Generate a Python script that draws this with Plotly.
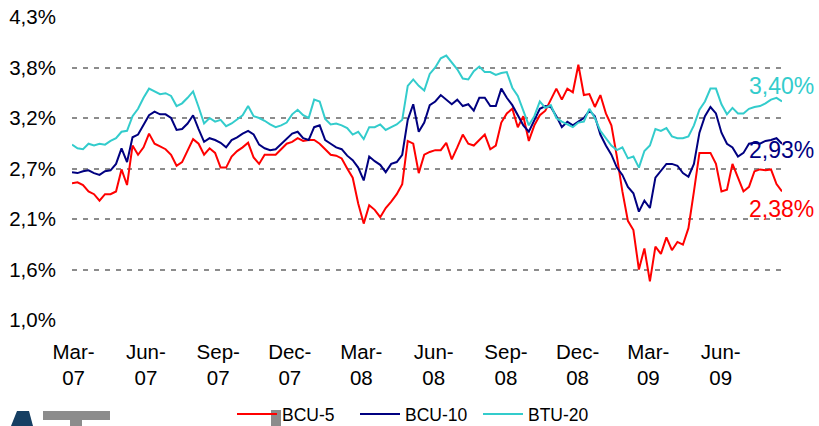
import pandas as pd
import plotly.graph_objects as go

# 週次サンプル (2007-02-27 から 130 週)
dates = pd.date_range("2007-02-27", periods=130, freq="7D")

bcu5 = [
    2.49, 2.50, 2.47, 2.40, 2.37, 2.30, 2.37, 2.37, 2.40, 2.64,
    2.47, 2.90, 2.80, 2.88, 3.03, 2.92, 2.89, 2.86, 2.80, 2.68,
    2.72, 2.85, 2.97, 2.92, 2.80, 2.87, 2.82, 2.66, 2.66, 2.78,
    2.84, 2.88, 2.93, 2.77, 2.70, 2.80, 2.80, 2.80, 2.86, 2.92,
    2.94, 2.98, 2.95, 2.96, 2.96, 2.92, 2.86, 2.80, 2.79, 2.76,
    2.65, 2.55, 2.27, 2.05, 2.25, 2.20, 2.12, 2.22, 2.29, 2.37,
    2.48, 2.95, 2.92, 2.60, 2.80, 2.83, 2.85, 2.85, 2.93, 2.75,
    2.88, 3.02, 2.92, 2.90, 2.96, 3.02, 2.86, 2.90, 3.15, 3.25,
    3.30, 3.10, 3.22, 2.95, 3.12, 3.23, 3.28, 3.40, 3.52, 3.40,
    3.52, 3.48, 3.78, 3.45, 3.46, 3.32, 3.45, 3.25, 3.12, 2.78,
    2.40, 2.08, 1.98, 1.55, 1.78, 1.42, 1.80, 1.72, 1.90, 1.76,
    1.85, 1.82, 2.00, 2.40, 2.82, 2.82, 2.82, 2.70, 2.40, 2.42,
    2.70, 2.55, 2.40, 2.45, 2.62, 2.64, 2.63, 2.64, 2.48, 2.40,
]

bcu10 = [
    2.61, 2.60, 2.62, 2.63, 2.60, 2.58, 2.62, 2.63, 2.70, 2.87,
    2.72, 2.99, 3.02, 3.12, 3.23, 3.27, 3.24, 3.24, 3.20, 3.07,
    3.08, 3.14, 3.23, 3.08, 2.94, 2.98, 2.96, 2.93, 2.88, 2.96,
    2.99, 3.03, 3.06, 3.02, 2.91, 2.87, 2.85, 2.86, 2.92, 2.98,
    3.03, 3.05, 2.98, 2.96, 3.10, 3.12, 2.96, 2.92, 2.88, 2.86,
    2.79, 2.74, 2.66, 2.52, 2.78, 2.73, 2.69, 2.61, 2.70, 2.72,
    2.80, 3.18, 3.35, 3.05, 3.15, 3.34, 3.38, 3.45, 3.40, 3.35,
    3.40, 3.33, 3.35, 3.28, 3.42, 3.42, 3.33, 3.33, 3.52, 3.42,
    3.34, 3.23, 3.12, 3.05, 3.17, 3.30, 3.33, 3.32, 3.22, 3.10,
    3.16, 3.12, 3.16, 3.20, 3.28, 3.22, 3.02, 2.90, 2.80, 2.66,
    2.58, 2.45, 2.38, 2.18, 2.30, 2.22, 2.55, 2.62, 2.70, 2.70,
    2.68, 2.60, 2.56, 2.70, 3.04, 3.22, 3.32, 3.25, 3.04, 2.92,
    2.88, 2.78, 2.82, 2.92, 2.93, 2.92, 2.95, 2.96, 2.98, 2.92,
]

btu20 = [
    2.91, 2.87, 2.86, 2.92, 2.90, 2.92, 2.91, 2.95, 2.98, 3.05,
    3.06, 3.22, 3.30, 3.42, 3.52, 3.49, 3.46, 3.47, 3.44, 3.33,
    3.36, 3.42, 3.49, 3.32, 3.14, 3.20, 3.16, 3.18, 3.11, 3.14,
    3.19, 3.23, 3.33, 3.22, 3.20, 3.17, 3.13, 3.10, 3.12, 3.15,
    3.24, 3.29, 3.23, 3.20, 3.40, 3.38, 3.19, 3.13, 3.14, 3.12,
    3.09, 3.02, 3.05, 2.97, 3.10, 3.10, 3.13, 3.07, 3.10, 3.13,
    3.18, 3.55, 3.62, 3.55, 3.50, 3.68, 3.75, 3.85, 3.88, 3.80,
    3.73, 3.63, 3.62, 3.71, 3.76, 3.70, 3.70, 3.67, 3.69, 3.70,
    3.53, 3.44, 3.27, 3.12, 3.22, 3.38, 3.31, 3.34, 3.20, 3.16,
    3.13, 3.10, 3.15, 3.16, 3.30, 3.20, 3.06, 2.98, 2.90, 2.85,
    2.88, 2.76, 2.78, 2.66, 2.84, 2.90, 3.08, 3.06, 3.09, 3.00,
    2.98, 2.98, 3.00, 3.12, 3.29, 3.38, 3.52, 3.52, 3.35, 3.24,
    3.31, 3.25, 3.25, 3.30, 3.32, 3.33, 3.36, 3.40, 3.42, 3.38,
]

series_names = ["BCU-5", "BCU-10", "BTU-20"]
series_colors = ["#FF0000", "#000080", "#33CCCC"]

# 軸の目盛
y_ticks = [1.0, 1.55, 2.1, 2.65, 3.2, 3.75, 4.3]
y_labels = ["1,0%", "1,6%", "2,1%", "2,7%", "3,2%", "3,8%", "4,3%"]
x_ticks = ["2007-03-01", "2007-06-01", "2007-09-01", "2007-12-01", "2008-03-01",
           "2008-06-01", "2008-09-01", "2008-12-01", "2009-03-01", "2009-06-01"]
x_labels = ["Mar-<br>07", "Jun-<br>07", "Sep-<br>07", "Dec-<br>07", "Mar-<br>08",
            "Jun-<br>08", "Sep-<br>08", "Dec-<br>08", "Mar-<br>09", "Jun-<br>09"]

# 最終値ラベル
end_labels = ["2,38%", "2,93%", "3,40%"]

FONT = "Arial, Liberation Sans, sans-serif"

# プロット領域 (px)
L, R, T, B = 72, 782, 17, 320
W, H = R - L, B - T


def px(x, y):
    # ピクセル位置 → paper 座標
    return (x - L) / W, (B - y) / H


fig = go.Figure()

for name, vals, col in zip(series_names, [bcu5, bcu10, btu20], series_colors):
    fig.add_trace(go.Scatter(
        x=dates, y=vals, name=name, mode="lines",
        line=dict(color=col, width=2),
    ))

for text, ypix, col in zip(end_labels, [209, 150, 86], series_colors):
    fig.add_annotation(
        x=px(781, ypix)[0], y=px(781, ypix)[1], xref="paper", yref="paper",
        text=text, showarrow=False, xanchor="center", yanchor="middle",
        font=dict(family=FONT, size=23, color=col),
    )

# ロゴの切れ端 (左下)
logo_path = "M {} {} L {} {} L {} {} L {} {} Z".format(
    *px(11, 426), *px(17, 411), *px(29, 411), *px(33, 426))
fig.add_shape(type="path", xref="paper", yref="paper", path=logo_path,
              fillcolor="#163F63", line=dict(width=0))
for (x0, y0, x1, y1) in [(43, 411, 110, 420), (70, 420, 82, 426), (271, 410, 281, 426)]:
    a0, b0 = px(x0, y0)
    a1, b1 = px(x1, y1)
    fig.add_shape(type="rect", xref="paper", yref="paper",
                  x0=a0, y0=b1, x1=a1, y1=b0,
                  fillcolor="#8C8C8C", line=dict(width=0), layer="below")

fig.update_layout(
    width=819, height=426,
    margin=dict(l=L, r=819 - R, t=T, b=426 - B, autoexpand=False),
    plot_bgcolor="white", paper_bgcolor="white",
    font=dict(family=FONT, color="black"),
    showlegend=True,
    legend=dict(
        orientation="h", xref="container", yref="container",
        x=232 / 819, xanchor="left", y=(426 - 414) / 426, yanchor="middle",
        font=dict(size=17.5, color="black"), bgcolor="rgba(0,0,0,0)",
        itemwidth=40, entrywidth=68, entrywidthmode="pixels", tracegroupgap=0,
    ),
    xaxis=dict(
        type="date", range=[dates[0], dates[-1]], automargin=False,
        tickvals=x_ticks, ticktext=x_labels,
        showgrid=False, zeroline=False, showline=False,
        ticks="outside", ticklen=13, tickcolor="rgba(0,0,0,0)",
        tickfont=dict(size=20.5, color="black"),
    ),
    yaxis=dict(
        range=[1.0, 4.3], tickvals=y_ticks, ticktext=y_labels, automargin=False,
        showgrid=True, gridcolor="#8C8C8C", gridwidth=2, griddash="5px,6px",
        zeroline=False, showline=False,
        ticks="outside", ticklen=11, tickcolor="rgba(0,0,0,0)",
        tickfont=dict(size=20.5, color="black"),
    ),
)

# body の既定マージン (8px) を消す、モードバー非表示
fig.write_html("out.html", config={"displayModeBar": False},
               post_script="document.body.style.margin='0';")
